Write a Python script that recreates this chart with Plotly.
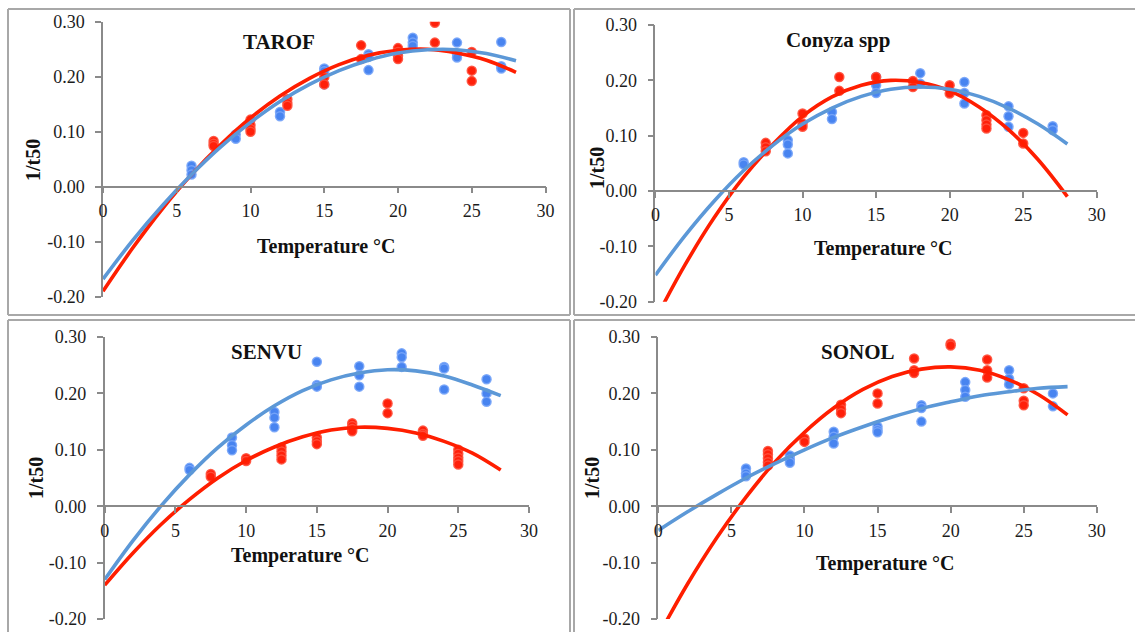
import plotly.graph_objects as go

# ---------------- data ----------------
X_TICKS = [0, 5, 10, 15, 20, 25, 30]
X_TICK_TEXT = ["0", "5", "10", "15", "20", "25", "30"]
Y_TICKS = [-0.2, -0.1, 0.0, 0.1, 0.2, 0.3]
Y_TICK_TEXT = ["-0.20", "-0.10", "0.00", "0.10", "0.20", "0.30"]

PANEL_TITLES = ["TAROF", "Conyza spp", "SENVU", "SONOL"]
X_TITLE = "Temperature °C"
Y_TITLE = "1/t50"

# temperatures at which the fitted trend lines were read
CURVE_T = [0, 2, 4, 6, 8, 10, 12, 14, 16, 18, 20, 22, 24, 26, 28]

# TAROF
TAROF_BLUE_T = [6, 6, 6, 9, 9, 12, 12, 15, 15, 15, 18, 18, 18, 21, 21, 21, 24, 24, 24, 27, 27, 27]
TAROF_BLUE_Y = [0.038, 0.030, 0.022, 0.095, 0.087, 0.136, 0.128, 0.215, 0.210, 0.186, 0.241, 0.236, 0.212,
                0.271, 0.262, 0.256, 0.262, 0.241, 0.235, 0.263, 0.219, 0.215]
TAROF_RED_T = [7.5, 7.5, 7.5, 10, 10, 10, 10, 12.5, 12.5, 12.5, 15, 15, 17.5, 17.5, 20, 20, 20, 20,
               22.5, 22.5, 25, 25, 25]
TAROF_RED_Y = [0.083, 0.078, 0.074, 0.122, 0.112, 0.105, 0.100, 0.159, 0.152, 0.147, 0.199, 0.186,
               0.257, 0.232, 0.252, 0.245, 0.238, 0.232, 0.298, 0.262, 0.245, 0.211, 0.192]
TAROF_BLUE_FIT = [-0.168, -0.098, -0.035, 0.022, 0.073, 0.117, 0.155, 0.186, 0.211, 0.230, 0.243, 0.249,
                  0.249, 0.242, 0.229]
TAROF_RED_FIT = [-0.190, -0.112, -0.041, 0.022, 0.077, 0.125, 0.165, 0.197, 0.222, 0.239, 0.248, 0.250,
                 0.243, 0.230, 0.208]

# Conyza spp
CONYZA_BLUE_T = [6, 6, 9, 9, 9, 12, 12, 15, 15, 15, 18, 18, 21, 21, 21, 24, 24, 24, 27, 27]
CONYZA_BLUE_Y = [0.052, 0.048, 0.092, 0.084, 0.068, 0.143, 0.130, 0.206, 0.191, 0.177, 0.213, 0.194,
                 0.197, 0.177, 0.158, 0.153, 0.135, 0.116, 0.117, 0.110]
CONYZA_RED_T = [7.5, 7.5, 7.5, 10, 10, 10, 12.5, 12.5, 15, 17.5, 17.5, 20, 20, 22.5, 22.5, 22.5, 22.5, 25, 25]
CONYZA_RED_Y = [0.087, 0.079, 0.072, 0.140, 0.122, 0.116, 0.206, 0.181, 0.206, 0.199, 0.188, 0.191, 0.176,
                0.137, 0.128, 0.120, 0.113, 0.105, 0.086]
CONYZA_BLUE_FIT = [-0.152, -0.081, -0.018, 0.037, 0.083, 0.121, 0.150, 0.171, 0.184, 0.188, 0.184, 0.171,
                   0.150, 0.121, 0.085]
CONYZA_RED_FIT = [-0.232, -0.134, -0.048, 0.025, 0.085, 0.135, 0.170, 0.191, 0.200, 0.196, 0.181, 0.152,
                  0.111, 0.057, -0.010]

# SENVU
SENVU_BLUE_T = [6, 6, 9, 9, 9, 12, 12, 12, 15, 15, 15, 18, 18, 18, 21, 21, 21, 24, 24, 24, 27, 27, 27]
SENVU_BLUE_Y = [0.068, 0.064, 0.122, 0.108, 0.099, 0.167, 0.157, 0.140, 0.256, 0.215, 0.212, 0.248, 0.232,
                0.212, 0.271, 0.264, 0.247, 0.247, 0.244, 0.207, 0.225, 0.200, 0.185]
SENVU_RED_T = [7.5, 7.5, 10, 10, 12.5, 12.5, 12.5, 12.5, 15, 15, 15, 17.5, 17.5, 17.5, 17.5, 20, 20,
               22.5, 22.5, 22.5, 25, 25, 25, 25, 25]
SENVU_RED_Y = [0.057, 0.052, 0.085, 0.080, 0.104, 0.097, 0.090, 0.083, 0.122, 0.115, 0.110, 0.147, 0.142,
               0.137, 0.133, 0.182, 0.165, 0.134, 0.128, 0.125, 0.100, 0.093, 0.086, 0.080, 0.074]
SENVU_BLUE_FIT = [-0.130, -0.061, 0.001, 0.056, 0.104, 0.144, 0.178, 0.205, 0.224, 0.236, 0.242, 0.240,
                  0.231, 0.215, 0.196]
SENVU_RED_FIT = [-0.140, -0.083, -0.032, 0.012, 0.050, 0.081, 0.105, 0.123, 0.135, 0.140, 0.138, 0.130,
                 0.115, 0.094, 0.064]

# SONOL
SONOL_BLUE_T = [6, 6, 6, 9, 9, 9, 12, 12, 12, 15, 15, 15, 18, 18, 18, 21, 21, 21, 24, 24, 24, 27, 27]
SONOL_BLUE_Y = [0.067, 0.058, 0.053, 0.090, 0.083, 0.077, 0.132, 0.123, 0.111, 0.141, 0.135, 0.131,
                0.179, 0.174, 0.150, 0.220, 0.206, 0.194, 0.241, 0.226, 0.216, 0.200, 0.177]
SONOL_RED_T = [7.5, 7.5, 7.5, 7.5, 7.5, 10, 10, 12.5, 12.5, 12.5, 15, 15, 17.5, 17.5, 17.5, 20, 20,
               22.5, 22.5, 22.5, 25, 25, 25]
SONOL_RED_Y = [0.098, 0.092, 0.085, 0.078, 0.072, 0.120, 0.114, 0.180, 0.172, 0.165, 0.200, 0.182,
               0.262, 0.241, 0.236, 0.288, 0.285, 0.260, 0.241, 0.228, 0.209, 0.187, 0.179]
SONOL_BLUE_FIT = [-0.043, -0.010, 0.021, 0.050, 0.076, 0.100, 0.122, 0.141, 0.158, 0.173, 0.185, 0.196,
                  0.203, 0.209, 0.212]
SONOL_RED_FIT = [-0.230, -0.138, -0.056, 0.016, 0.079, 0.131, 0.174, 0.207, 0.230, 0.243, 0.247, 0.241,
                 0.224, 0.198, 0.162]

# ---------------- layout geometry (pixels) ----------------
W, H = 1135, 632
# plot area: x of value 0, x of value 30, y of 0.30, y of -0.20
PLOT_PX = [
    (103, 545.5, 21.7, 296.7),
    (655.4, 1096.8, 25.0, 301.7),
    (104.7, 529.0, 337.0, 619.0),
    (658.3, 1096.8, 337.0, 619.0),
]
# visible frame edges of the four panels (pixel segments), all inside the page
FRAME_SEGMENTS = [
    (8, 9, 570, 9), (8, 9, 8, 315), (570, 9, 570, 315), (8, 315, 570, 315),
    (574, 9, W, 9), (574, 9, 574, 315), (574, 315, W, 315),
    (8, 320, 570, 320), (8, 320, 8, H), (570, 320, 570, H),
    (574, 320, W, 320), (574, 320, 574, H),
]
TITLE_POS = [(279, 42), (838, 40), (266, 352), (858, 352)]
XTITLE_POS = [(327, 247), (883, 248), (300, 555), (885, 563)]
YTITLE_POS = [(33, 160), (597, 168), (36, 478), (592, 478)]

BLUE_PT = "rgb(72,132,240)"
BLUE_PT_EDGE = "rgba(120,165,248,0.9)"
RED_PT = "rgb(255,32,10)"
RED_PT_EDGE = "rgba(255,80,60,0.9)"
BLUE_LINE = "rgb(92,152,215)"
RED_LINE = "rgb(255,30,0)"
AXIS_COL = "#8a8a8a"
TXT_COL = "#1c1c1c"
SERIF = "Liberation Serif"

panels = [
    (TAROF_BLUE_T, TAROF_BLUE_Y, TAROF_RED_T, TAROF_RED_Y, TAROF_BLUE_FIT, TAROF_RED_FIT),
    (CONYZA_BLUE_T, CONYZA_BLUE_Y, CONYZA_RED_T, CONYZA_RED_Y, CONYZA_BLUE_FIT, CONYZA_RED_FIT),
    (SENVU_BLUE_T, SENVU_BLUE_Y, SENVU_RED_T, SENVU_RED_Y, SENVU_BLUE_FIT, SENVU_RED_FIT),
    (SONOL_BLUE_T, SONOL_BLUE_Y, SONOL_RED_T, SONOL_RED_Y, SONOL_BLUE_FIT, SONOL_RED_FIT),
]

fig = go.Figure()
layout = {}
annotations = []
shapes = []

for i, (bt, by, rt, ry, bfit, rfit) in enumerate(panels):
    n = i + 1
    xa = "x" if n == 1 else f"x{n}"
    ya = "y" if n == 1 else f"y{n}"
    xk = "xaxis" if n == 1 else f"xaxis{n}"
    yk = "yaxis" if n == 1 else f"yaxis{n}"
    x0, x1, yt, yb = PLOT_PX[i]
    ydom = [1 - yb / H, 1 - yt / H]
    zero_pos = ydom[0] + (0 - (-0.2)) / 0.5 * (ydom[1] - ydom[0])

    fig.add_trace(go.Scatter(x=bt, y=by, xaxis=xa, yaxis=ya, mode="markers",
                             marker=dict(size=9, color=BLUE_PT, line=dict(color=BLUE_PT_EDGE, width=1.5)),
                             showlegend=False, hoverinfo="x+y"))
    fig.add_trace(go.Scatter(x=rt, y=ry, xaxis=xa, yaxis=ya, mode="markers",
                             marker=dict(size=9, color=RED_PT, line=dict(color=RED_PT_EDGE, width=1.5)),
                             showlegend=False, hoverinfo="x+y"))
    fig.add_trace(go.Scatter(x=CURVE_T, y=rfit, xaxis=xa, yaxis=ya, mode="lines",
                             line=dict(color=RED_LINE, width=3.6, shape="spline", smoothing=1.0),
                             showlegend=False, hoverinfo="skip"))
    fig.add_trace(go.Scatter(x=CURVE_T, y=bfit, xaxis=xa, yaxis=ya, mode="lines",
                             line=dict(color=BLUE_LINE, width=3.6, shape="spline", smoothing=1.0),
                             showlegend=False, hoverinfo="skip"))

    layout[xk] = dict(domain=[x0 / W, x1 / W], range=[0, 30], anchor="free", position=zero_pos,
                      showline=True, linecolor=AXIS_COL, linewidth=1.5, ticks="outside",
                      tickcolor=AXIS_COL, tickwidth=1.5, ticklen=6, tickvals=X_TICKS,
                      ticktext=X_TICK_TEXT, tickfont=dict(family=SERIF, size=18, color=TXT_COL),
                      ticklabelstandoff=2, showgrid=False, zeroline=False, automargin=False)
    layout[yk] = dict(domain=ydom, range=[-0.2, 0.3], anchor=xa, showline=True, linecolor=AXIS_COL,
                      linewidth=1.5, ticks="outside", tickcolor=AXIS_COL, tickwidth=1.5, ticklen=6,
                      tickvals=Y_TICKS, ticktext=Y_TICK_TEXT,
                      tickfont=dict(family=SERIF, size=18, color=TXT_COL),
                      ticklabelstandoff=7, showgrid=False, zeroline=False, automargin=False)

    tx, ty = TITLE_POS[i]
    annotations.append(dict(text=PANEL_TITLES[i], x=tx / W, y=1 - ty / H, xref="paper", yref="paper",
                            showarrow=False, xanchor="center", yanchor="middle",
                            font=dict(family=SERIF, size=21, color="#111111", weight="bold")))
    tx, ty = XTITLE_POS[i]
    annotations.append(dict(text=X_TITLE, x=tx / W, y=1 - ty / H, xref="paper", yref="paper",
                            showarrow=False, xanchor="center", yanchor="middle",
                            font=dict(family=SERIF, size=20, color="#111111", weight="bold")))
    tx, ty = YTITLE_POS[i]
    annotations.append(dict(text=Y_TITLE, x=tx / W, y=1 - ty / H, xref="paper", yref="paper",
                            showarrow=False, xanchor="center", yanchor="middle", textangle=-90,
                            font=dict(family=SERIF, size=20, color="#111111", weight="bold")))

for (sx0, sy0, sx1, sy1) in FRAME_SEGMENTS:
    shapes.append(dict(type="line", xref="paper", yref="paper", x0=sx0 / W, x1=sx1 / W,
                       y0=1 - sy0 / H, y1=1 - sy1 / H, line=dict(color="#a8a8a8", width=2),
                       layer="below"))

fig.update_layout(width=W, height=H, margin=dict(l=0, r=0, t=0, b=0, autoexpand=False),
                  paper_bgcolor="white", plot_bgcolor="white",
                  annotations=annotations, shapes=shapes, **layout)

# the page's default body margin would shift the figure; remove it
fig.write_html("out.html", config={"displayModeBar": False},
               post_script="document.body.style.margin='0px';document.body.style.overflow='hidden';")
